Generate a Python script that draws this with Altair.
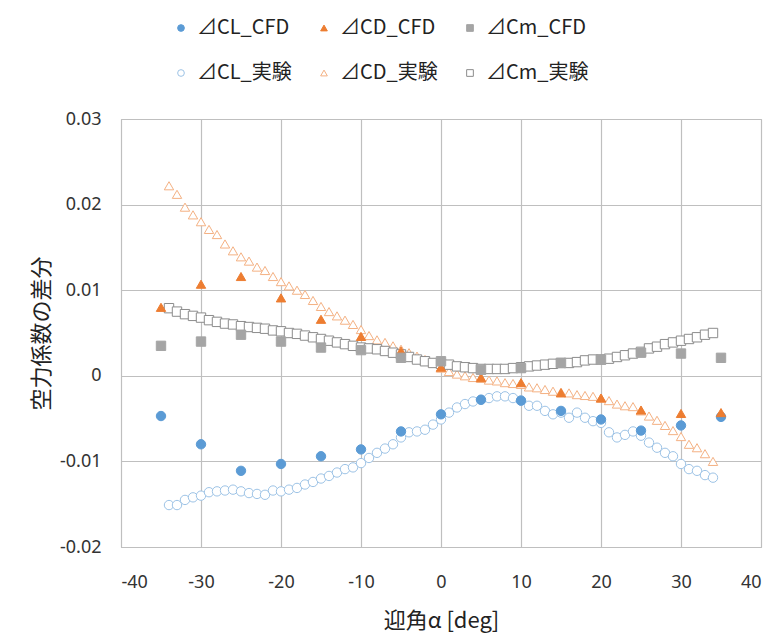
import altair as alt
import pandas as pd

# ---- data ----
alpha_cfd = [-35, -30, -25, -20, -15, -10, -5, 0, 5, 10, 15, 20, 25, 30, 35]
cl_cfd = [-0.0047, -0.0080, -0.0111, -0.0103, -0.0094, -0.0086, -0.0065, -0.0045,
          -0.0028, -0.0029, -0.0041, -0.0051, -0.0064, -0.0058, -0.0048]
cd_cfd = [0.0080, 0.0107, 0.0116, 0.0091, 0.0066, 0.0046, 0.0029, 0.0010,
          -0.0002, -0.0008, -0.0020, -0.0026, -0.0040, -0.0044, -0.0043]
cm_cfd = [0.0035, 0.0040, 0.0048, 0.0040, 0.0033, 0.0030, 0.0021, 0.0017,
          0.0007, 0.0009, 0.0015, 0.0019, 0.0027, 0.0026, 0.0021]

alpha_exp = [-34, -33, -32, -31, -30, -29, -28, -27, -26, -25, -24, -23, -22, -21, -20,
             -19, -18, -17, -16, -15, -14, -13, -12, -11, -10, -9, -8, -7, -6, -5,
             -4, -3, -2, -1, 0, 1, 2, 3, 4, 5, 6, 7, 8, 9, 10, 11, 12, 13, 14, 15,
             16, 17, 18, 19, 20, 21, 22, 23, 24, 25, 26, 27, 28, 29, 30, 31, 32, 33, 34]
cl_exp = [-0.0151, -0.0151, -0.0145, -0.0142, -0.0140, -0.0136, -0.0135, -0.0134, -0.0133,
          -0.0135, -0.0137, -0.0138, -0.0139, -0.0134, -0.0135, -0.0133, -0.0131, -0.0127,
          -0.0124, -0.0120, -0.0117, -0.0113, -0.0109, -0.0107, -0.0102, -0.0096, -0.0090,
          -0.0085, -0.0080, -0.0072, -0.0066, -0.0065, -0.0063, -0.0057, -0.0051, -0.0043,
          -0.0037, -0.0033, -0.0030, -0.0028, -0.0026, -0.0024, -0.0024, -0.0026, -0.0029,
          -0.0035, -0.0035, -0.0041, -0.0045, -0.0043, -0.0049, -0.0043, -0.0049, -0.0053,
          -0.0055, -0.0066, -0.0072, -0.0069, -0.0065, -0.0070, -0.0078, -0.0084, -0.0090,
          -0.0094, -0.0103, -0.0109, -0.0111, -0.0116, -0.0119]
cd_exp = [0.0222, 0.0212, 0.0197, 0.0188, 0.0180, 0.0171, 0.0165, 0.0154, 0.0146, 0.0139,
          0.0134, 0.0127, 0.0123, 0.0116, 0.0110, 0.0105, 0.0100, 0.0095, 0.0088, 0.0081,
          0.0075, 0.0070, 0.0065, 0.0060, 0.0054, 0.0047, 0.0042, 0.0039, 0.0035, 0.0031,
          0.0027, 0.0023, 0.0019, 0.0015, 0.0009, 0.0005, 0.0002, 0.0000, -0.0002, -0.0003,
          -0.0005, -0.0006, -0.0008, -0.0009, -0.0010, -0.0013, -0.0014, -0.0016, -0.0018,
          -0.0019, -0.0020, -0.0022, -0.0023, -0.0024, -0.0026, -0.0029, -0.0033, -0.0035,
          -0.0036, -0.0041, -0.0047, -0.0052, -0.0058, -0.0064, -0.0071, -0.0080, -0.0084,
          -0.0091, -0.0100]
cm_exp = [0.0079, 0.0075, 0.0072, 0.0070, 0.0068, 0.0065, 0.0063, 0.0061, 0.0060, 0.0058,
          0.0057, 0.0056, 0.0055, 0.0053, 0.0052, 0.0050, 0.0049, 0.0047, 0.0045, 0.0043,
          0.0041, 0.0039, 0.0037, 0.0035, 0.0033, 0.0032, 0.0031, 0.0029, 0.0027, 0.0025,
          0.0022, 0.0019, 0.0017, 0.0015, 0.0014, 0.0013, 0.0011, 0.0010, 0.0009, 0.0008,
          0.0008, 0.0008, 0.0008, 0.0009, 0.0010, 0.0011, 0.0012, 0.0013, 0.0014, 0.0015,
          0.0015, 0.0016, 0.0018, 0.0019, 0.0019, 0.0020, 0.0022, 0.0024, 0.0026, 0.0028,
          0.0032, 0.0034, 0.0037, 0.0039, 0.0041, 0.0043, 0.0045, 0.0048, 0.0050]

series_names = ["⊿CL_CFD", "⊿CD_CFD", "⊿Cm_CFD", "⊿CL_実験", "⊿CD_実験", "⊿Cm_実験"]
stroke_colors = ["#5B9BD5", "#ED7D31", "#A5A5A5", "#9DC3E6", "#F4B183", "#8C8C8C"]
fill_colors = ["#5B9BD5", "#ED7D31", "#A5A5A5", "#FFFFFF", "#FFFFFF", "#FFFFFF"]
shapes = ["circle", "triangle-up", "square", "circle", "triangle-up", "square"]

rows = []
# experimental first (drawn underneath), then CFD
for name, vals in [(series_names[3], cl_exp), (series_names[4], cd_exp), (series_names[5], cm_exp)]:
    for a, v in zip(alpha_exp, vals):
        rows.append({"alpha": a, "value": v, "series": name})
for name, vals in [(series_names[0], cl_cfd), (series_names[1], cd_cfd), (series_names[2], cm_cfd)]:
    for a, v in zip(alpha_cfd, vals):
        rows.append({"alpha": a, "value": v, "series": name})
df = pd.DataFrame(rows)

FONT = "Noto Sans CJK JP"
legend = alt.Legend(
    title=None, orient="none", legendX=50, legendY=-101, direction="horizontal",
    columns=3, labelFont=FONT, labelFontSize=20, labelColor="#222222",
    symbolSize=45, symbolStrokeWidth=1, columnPadding=22, rowPadding=25,
    labelOffset=6,
)

chart = alt.Chart(df).mark_point(opacity=1, fillOpacity=1, size=88, strokeWidth=1).encode(
    x=alt.X("alpha:Q", title="迎角α [deg]",
            scale=alt.Scale(domain=[-40, 40], nice=False),
            axis=alt.Axis(values=[-40, -30, -20, -10, 0, 10, 20, 30, 40],
                          labelExpr="replace(format(datum.value, 'd'), '\u2212', '-')",
                          labelPadding=26, titlePadding=19)),
    y=alt.Y("value:Q", title="空力係数の差分",
            scale=alt.Scale(domain=[-0.02, 0.03], nice=False),
            axis=alt.Axis(values=[-0.02, -0.01, 0, 0.01, 0.02, 0.03],
                          labelExpr="abs(datum.value) < 1e-9 ? '0' : replace(format(datum.value, '.2f'), '\u2212', '-')",
                          labelPadding=20, titlePadding=6)),
    stroke=alt.Stroke("series:N", scale=alt.Scale(domain=series_names, range=stroke_colors), legend=legend),
    fill=alt.Fill("series:N", scale=alt.Scale(domain=series_names, range=fill_colors), legend=legend),
    shape=alt.Shape("series:N", scale=alt.Scale(domain=series_names, range=shapes), legend=legend),
).properties(
    width=640, height=428,
    padding={"left": 22, "top": 10, "right": 5, "bottom": 2},
).configure_view(
    stroke="#BFBFBF", strokeWidth=1,
).configure_axis(
    grid=True, gridColor="#BFBFBF", gridWidth=1.2, domainColor="#BFBFBF",
    ticks=False, labelFont="Noto Sans", labelFontSize=18, labelColor="#333333",
    titleFont=FONT, titleFontSize=22, titleFontWeight="normal", titleColor="#222222",
)

chart.save("out.html", embed_options={"renderer": "svg", "actions": False})
